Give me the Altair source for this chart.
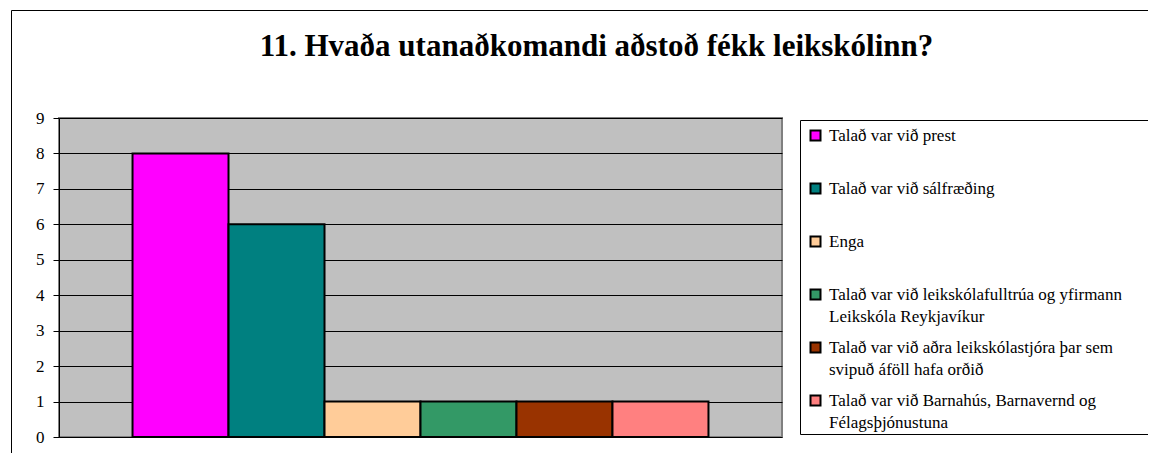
import altair as alt
import pandas as pd

# ---- data ----
categories = [
    "Talað var við prest",
    "Talað var við sálfræðing",
    "Enga",
    "Talað var við leikskólafulltrúa og yfirmann\nLeikskóla Reykjavíkur",
    "Talað var við aðra leikskólastjóra þar sem\nsvipuð áföll hafa orðið",
    "Talað var við Barnahús, Barnavernd og\nFélagsþjónustuna",
]
counts = [8, 6, 1, 1, 1, 1]
colors = ["#FF00FF", "#008080", "#FFCC99", "#339966", "#993300", "#FF8080"]
y_ticks = [0, 1, 2, 3, 4, 5, 6, 7, 8, 9]
title_text = "11. Hvaða utanaðkomandi aðstoð fékk leikskólinn?"

df = pd.DataFrame({"svar": categories, "fjoldi": counts})

W, H = 723, 319
SERIF = "Liberation Serif"

bars = alt.Chart(df).mark_bar(stroke="black", strokeWidth=2).encode(
    x=alt.X("svar:N", sort=categories, axis=None,
            scale=alt.Scale(paddingInner=0, paddingOuter=0.766)),
    y=alt.Y("fjoldi:Q", scale=alt.Scale(domain=[0, 9], nice=False),
            axis=alt.Axis(values=y_ticks, title=None, format="d",
                          labelFont=SERIF, labelFontSize=17, labelColor="black",
                          labelPadding=9, tickSize=6, tickColor="black",
                          domainColor="black", gridColor="black", gridWidth=1,
                          grid=True)),
    color=alt.Color("svar:N", sort=categories,
                    scale=alt.Scale(domain=categories, range=colors),
                    legend=alt.Legend(orient="none", legendX=741, legendY=2,
                                      title=None, symbolType="square",
                                      symbolSize=100, symbolStrokeWidth=2,
                                      symbolStrokeColor="black", symbolOpacity=1,
                                      labelFont=SERIF, labelFontSize=17,
                                      labelColor="black", labelLimit=1000,
                                      labelOffset=5, padding=7, rowPadding=13,
                                      gridAlign="all",
                                      labelExpr="split(datum.label, '\\n')")),
)

one = alt.Data(values=[{"k": 1}])

frame = alt.Chart(one).mark_rect(fillOpacity=0, stroke="black", strokeWidth=1).encode(
    x=alt.value(-47.5), x2=alt.value(1200), y=alt.value(-107.5), y2=alt.value(600)
)

legend_box = alt.Chart(one).mark_rect(fill="white", stroke="black", strokeWidth=1).encode(
    x=alt.value(741.5), x2=alt.value(1200), y=alt.value(2.5), y2=alt.value(316.5)
)

chart = alt.layer(frame, bars, legend_box).properties(
    width=W, height=H,
    title=alt.TitleParams(text=title_text, font=SERIF, fontSize=31,
                          fontWeight="bold", color="black", anchor="middle",
                          frame="group", baseline="alphabetic", offset=0,
                          dx=176, dy=77),
    padding={"left": 51, "top": 110, "right": 366, "bottom": 16},
    autosize=alt.AutoSizeParams(type="none"),
    background="white",
).configure(
    style={"guide-label": {"lineHeight": 22}}
).configure_view(
    fill="#C0C0C0", stroke="#808080", strokeWidth=2
)

chart.save("out.html", embed_options={"renderer": "svg", "actions": False})
